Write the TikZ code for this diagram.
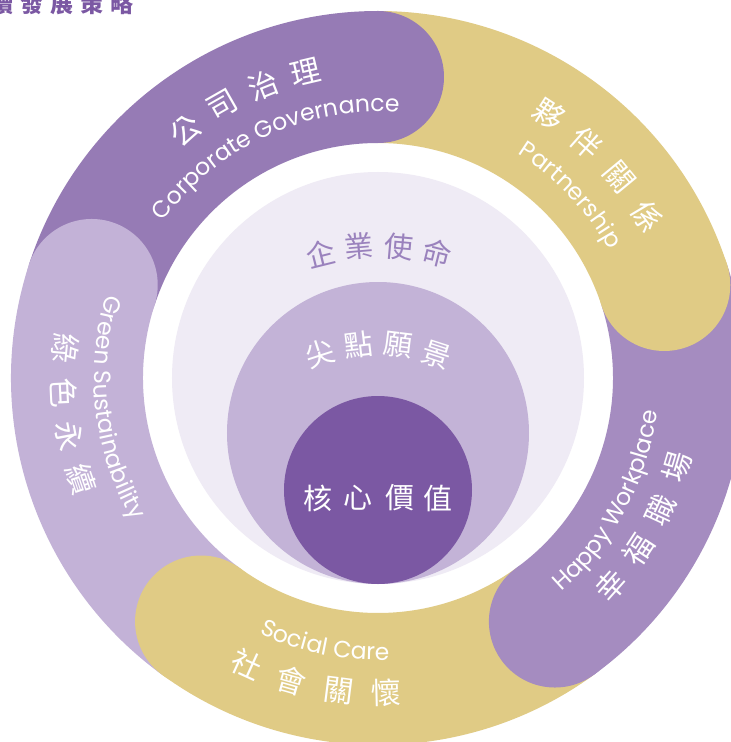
\documentclass[tikz,border=0pt]{standalone}
\usepackage{fontspec}
\setmainfont{Poppins}
\newfontfamily\cjk{Noto Sans CJK TC}
\newfontfamily\eng{Poppins}
\usetikzlibrary{decorations.text}
\definecolor{cgov}{HTML}{967BB5}
\definecolor{cgold}{HTML}{E0CB85}
\definecolor{chappy}{HTML}{A58CC0}
\definecolor{cgreen}{HTML}{C3B2D7}
\definecolor{clight}{HTML}{EFEBF5}
\definecolor{cmid}{HTML}{C3B3D7}
\definecolor{ccore}{HTML}{7B58A3}
\definecolor{cmission}{HTML}{9A82BD}
\definecolor{ctitle}{HTML}{7B58A3}
\newcommand\engsty{\eng\fontsize{23.5}{23.5}\selectfont\color{white}}
\newcommand\ringseg[2]{%
  \fill[#2] (#1:235) arc[start angle=#1, end angle={#1+72}, radius=235]
    -- ({#1+72}:367) arc[start angle={#1+72}, end angle=#1, radius=367] -- cycle;}
\tikzset{
  cjkw/.style={font={\cjk\fontsize{30}{30}\selectfont}, text=white, inner sep=0pt},
  cjkc/.style={font={\cjk\fontsize{29}{29}\selectfont}, inner sep=0pt},
  capdisc/.style={radius=66},
}
\begin{document}
\begin{tikzpicture}[x=1pt,y=1pt]
\clip (-378,-364) rectangle (353,378);
\fill[white] (-378,-364) rectangle (353,378);
% ring segments (bodies)
\ringseg{90}{cgov}
\ringseg{18}{cgold}
\ringseg{-54}{chappy}
\ringseg{-126}{cgold}
\ringseg{162}{cgreen}
% rounded heads
\fill[cgov] (90:301) circle[capdisc];
\fill[cgold] (18:301) circle[capdisc];
\fill[chappy] (-54:301) circle[capdisc];
\fill[cgold] (-126:301) circle[capdisc];
\fill[cgreen] (162:301) circle[capdisc];
% inner discs
\fill[clight] (0,0) circle[radius=206];
\fill[cmid] (0,-55) circle[radius=151];
\fill[ccore] (0,-112) circle[radius=94];
% Chinese labels on the ring
\foreach \c [count=\i] in {公,司,治,理} {
  \pgfmathsetmacro\a{127.9-8.2*(\i-1)}
  \node[cjkw, rotate=\a-90] (gov\i) at (\a:314) {\c};}
\foreach \c [count=\i] in {夥,伴,關,係} {
  \pgfmathsetmacro\a{57.05-8.7*(\i-1)}
  \node[cjkw, rotate=\a-90] (par\i) at (\a:314) {\c};}
\foreach \c [count=\i] in {幸,福,職,場} {
  \pgfmathsetmacro\a{-41.8+8.4*(\i-1)}
  \node[cjkw, rotate=\a+90] (hap\i) at (\a:312) {\c};}
\foreach \c [count=\i] in {社,會,關,懷} {
  \pgfmathsetmacro\a{-114.65+8.7*(\i-1)}
  \node[cjkw, rotate=\a+90] (soc\i) at (\a:315) {\c};}
\foreach \c [count=\i] in {綠,色,永,續} {
  \pgfmathsetmacro\a{174.55+8.1*(\i-1)}
  \node[cjkw, rotate=\a+90] (grn\i) at (\a:314) {\c};}
% English labels on the ring
\path[decorate, decoration={text along path, text align=center,
  text={|\engsty|Corporate Governance}}]
  (159.7:266) arc[start angle=159.7, end angle=69.7, radius=266];
\path[decorate, decoration={text along path, text align=center,
  text={|\engsty|Partnership}}]
  (78.5:264) arc[start angle=78.5, end angle=8.5, radius=264];
\path[decorate, decoration={text along path, text align=center,
  text={|\engsty|Happy Workplace}}]
  (-73.1:281) arc[start angle=-73.1, end angle=16.9, radius=281];
\path[decorate, decoration={text along path, text align=center,
  text={|\engsty|Social Care}}]
  (-141.3:282) arc[start angle=-141.3, end angle=-61.3, radius=282];
\path[decorate, decoration={text along path, text align=center,
  text={|\engsty|Green Sustainability}}]
  (141.5:284) arc[start angle=141.5, end angle=231.5, radius=284];
% centre texts
\node[cjkc, text=cmission, rotate=14] (m1) at (-57,124.7) {企};
\node[cjkc, text=cmission, rotate=5] (m2) at (-19,131.3) {業};
\node[cjkc, text=cmission, rotate=-5] (m3) at (21,131.3) {使};
\node[cjkc, text=cmission, rotate=-14] (m4) at (59,124.7) {命};
\node[cjkc, text=white, rotate=18] (v1) at (-58,24.7) {尖};
\node[cjkc, text=white, rotate=7] (v2) at (-19.7,33) {點};
\node[cjkc, text=white, rotate=-7] (v3) at (20.3,33) {願};
\node[cjkc, text=white, rotate=-18] (v4) at (58.7,23) {景};
\node[cjkc, text=white] (c1) at (-60,-120) {核};
\node[cjkc, text=white] (c2) at (-20,-120) {心};
\node[cjkc, text=white] (c3) at (22,-120) {價};
\node[cjkc, text=white] (c4) at (60,-120) {值};
% title (cut off at the page edge)
\node[font={\cjk\bfseries\fontsize{23}{23}\selectfont}, text=ctitle, inner sep=0pt] (title) at (-316,374)
  {續\hspace{7pt}發\hspace{7pt}展\hspace{7pt}策\hspace{7pt}略};
\end{tikzpicture}
\end{document}
